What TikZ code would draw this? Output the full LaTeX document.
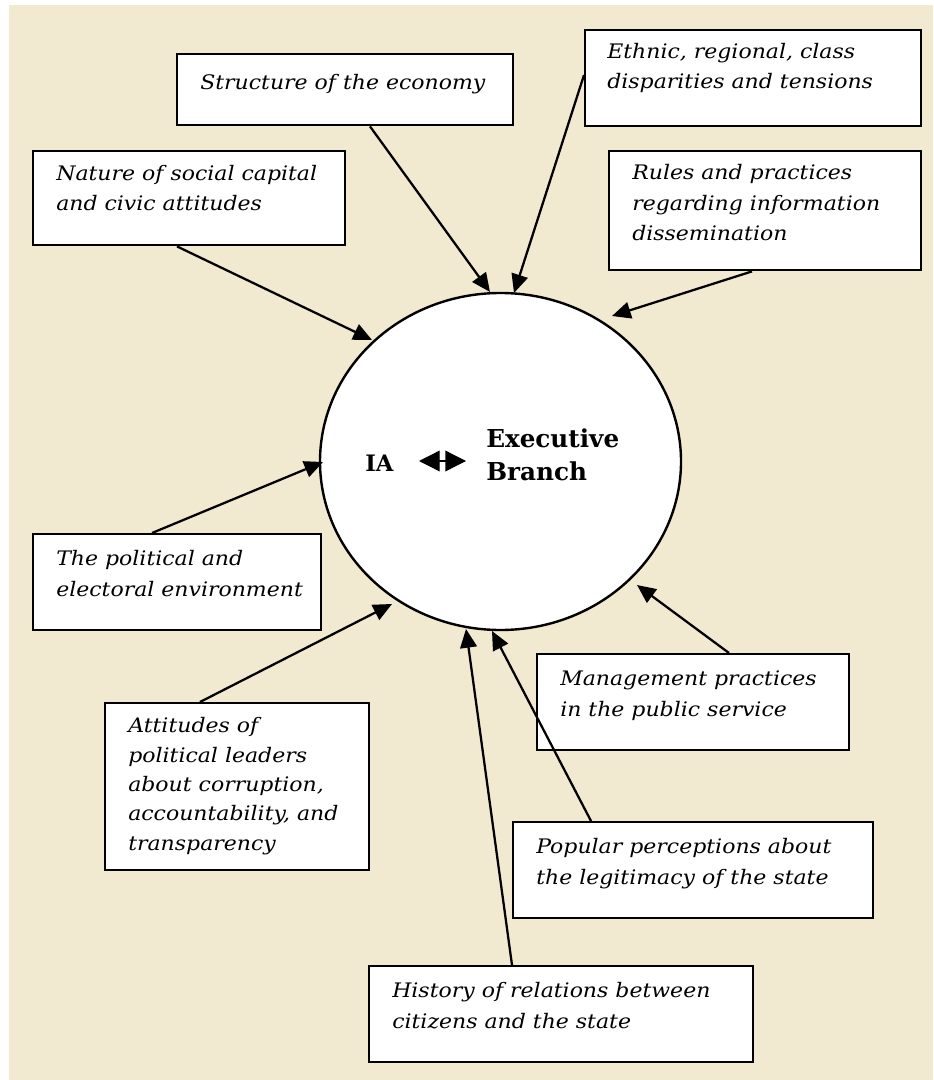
\documentclass[tikz,border=0pt]{standalone}
\usepackage{fontspec}
\setmainfont{DejaVu Serif}
\newfontfamily\boxfont[FakeStretch=1.1]{DejaVu Serif}
\usetikzlibrary{arrows.meta,shapes.geometric,calc}
\definecolor{bg}{RGB}{241,233,208}
\newcommand\px{0.75pt}
\tikzset{
  box/.style={draw=black, line width=1.8pt, fill=white, anchor=north west, inner sep=0pt},
  txt/.style={anchor=base west, inner sep=0pt, align=left, font=\boxfont\itshape\fontsize{15}{23}\selectfont},
  conn/.style={line width=1.7pt, -{Triangle[length=14pt,width=12.5pt]}},
  bold/.style={inner sep=0pt, align=left, font=\bfseries\fontsize{18.5}{24.75}\selectfont},
}
\begin{document}
\begin{tikzpicture}[x=0.75pt,y=-0.75pt]
\useasboundingbox (0,0) rectangle (933,1080);
\fill[bg] (9,5) rectangle (933,1080);

% central ellipse
\node[ellipse, draw, line width=1.8pt, fill=white, minimum width=361*\px, minimum height=337*\px, inner sep=0pt] (E) at (500.5,461.5) {};
\node[bold, anchor=base west, font=\bfseries\fontsize{17}{24}\selectfont] (IA) at (365,471) {IA};
\node[bold, anchor=base west] (EB) at (486,480) {Executive\\Branch};
\coordinate (da) at (419,461);
\coordinate (db) at (466,461);
\draw[line width=1pt, {Triangle[length=15.5pt,width=15.5pt]}-{Triangle[length=15.5pt,width=15.5pt]}] (da) -- (db);

% boxes
\node[box, minimum width=336*\px, minimum height=71*\px] (b1) at (176,53) {};
\node[box, minimum width=336*\px, minimum height=96*\px] (b2) at (584,29) {};
\node[box, minimum width=312*\px, minimum height=94*\px] (b3) at (32,150) {};
\node[box, minimum width=312*\px, minimum height=119*\px] (b4) at (608,150) {};
\node[box, minimum width=288*\px, minimum height=96*\px] (b5) at (32,533) {};
\node[box, minimum width=264*\px, minimum height=167*\px] (b6) at (104,702) {};
\node[box, minimum width=312*\px, minimum height=96*\px] (b7) at (536,653) {};
\node[box, minimum width=360*\px, minimum height=96*\px] (b8) at (512,821) {};
\node[box, minimum width=384*\px, minimum height=96*\px] (b9) at (368,965) {};

% texts (anchored at the baseline of the last line)
\node[txt] (t1) at ($(b1.north west)+(24,37)$) {Structure of the economy};
\node[txt] (t2) at ($(b2.north west)+(23,60)$) {Ethnic, regional, class\\disparities and tensions};
\node[txt] (t3) at ($(b3.north west)+(24,61)$) {Nature of social capital\\and civic attitudes};
\node[txt] (t4) at ($(b4.north west)+(24,91)$) {Rules and practices\\regarding information\\dissemination};
\node[txt] (t5) at ($(b5.north west)+(24,63)$) {The political and\\electoral environment};
\node[txt, font=\boxfont\itshape\fontsize{15}{22}\selectfont] (t6) at ($(b6.north west)+(24,148)$) {Attitudes of\\political leaders\\about corruption,\\accountability, and\\transparency};
\node[txt] (t7) at ($(b7.north west)+(24,63)$) {Management practices\\in the public service};
\node[txt] (t8) at ($(b8.north west)+(24,63)$) {Popular perceptions about\\the legitimacy of the state};
\node[txt] (t9) at ($(b9.north west)+(24,63)$) {History of relations between\\citizens and the state};

% tips
\coordinate (p1) at (490,292);
\coordinate (p2) at (514,293);
\coordinate (p3) at (372,340);
\coordinate (p4) at (612,316);
\coordinate (p5) at (323,462);
\coordinate (p6) at (392,604);
\coordinate (p7) at (637,585);
\coordinate (p8) at (492,631);
\coordinate (p9) at (466,629);

\draw[conn] ($(b1.south west)+(194,0)$) -- (p1);
\draw[conn] ($(b2.north west)+(0,46)$) -- (p2);
\draw[conn] ($(b3.south west)+(145,0)$) -- (p3);
\draw[conn] ($(b4.south west)+(144,0)$) -- (p4);
\draw[conn] ($(b5.north west)+(120,0)$) -- (p5);
\draw[conn] ($(b6.north west)+(96,0)$) -- (p6);
\draw[conn] ($(b7.north west)+(193,0)$) -- (p7);
\draw[conn] ($(b8.north west)+(79,0)$) -- (p8);
\draw[conn] ($(b9.north west)+(144,0)$) -- (p9);
\end{tikzpicture}
\end{document}
